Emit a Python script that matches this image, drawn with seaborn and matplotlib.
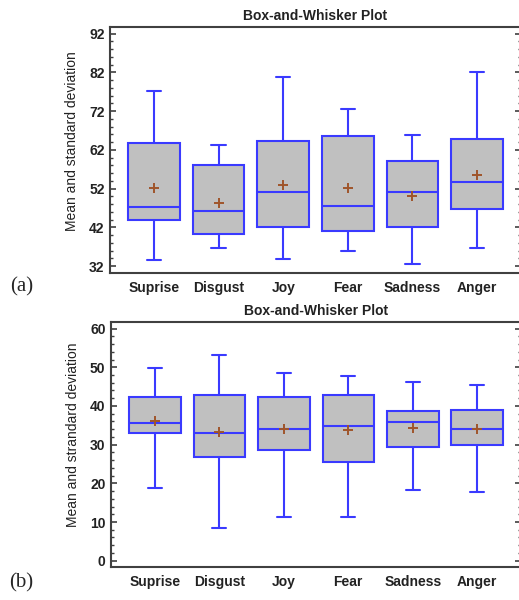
import numpy as np
import pandas as pd
import matplotlib
matplotlib.use("Agg")
import matplotlib.pyplot as plt
from matplotlib.ticker import MultipleLocator
import seaborn as sns

# Emotion categories
emotions = ['Suprise', 'Disgust', 'Joy', 'Fear', 'Sadness', 'Anger']

# Panel (a): whisker low, Q1, median, Q3, whisker high, mean
a_low = [33.5, 36.6, 33.8, 36.0, 32.4, 36.6]
a_q1 = [43.9, 40.3, 42.0, 41.0, 42.0, 46.7]
a_med = [47.2, 46.1, 51.1, 47.5, 51.1, 53.7]
a_q3 = [63.7, 58.0, 64.4, 65.5, 59.0, 64.8]
a_high = [77.2, 63.3, 80.7, 72.5, 65.9, 82.2]
a_mean = [52.1, 48.2, 52.8, 52.1, 50.0, 55.4]

# Panel (b)
b_low = [18.9, 8.5, 11.3, 11.3, 18.2, 17.8]
b_q1 = [32.9, 26.8, 28.6, 25.4, 29.3, 29.8]
b_med = [35.5, 33.0, 34.0, 34.7, 35.9, 34.0]
b_q3 = [42.3, 42.8, 42.3, 42.8, 38.7, 39.0]
b_high = [49.9, 53.1, 48.4, 47.8, 46.3, 45.3]
b_mean = [36.2, 33.3, 34.0, 33.7, 34.4, 34.0]

sns.set_style("ticks")
plt.rcParams['font.family'] = ['Liberation Sans', 'DejaVu Sans']

box_blue = '#3a3aff'
box_fill = '#c0c0c0'
mean_col = '#a0552a'
spine_col = '#404040'
text_col = '#222222'


def five_num_frame(low, q1, med, q3, high):
    # five values per group -> quartiles of the frame equal the given box
    rows = []
    for i, cat in enumerate(emotions):
        for v in (low[i], q1[i], med[i], q3[i], high[i]):
            rows.append({'emotion': cat, 'value': v})
    return pd.DataFrame(rows)


def draw_panel(ax, df, means, ylim, major, ylabel):
    sns.boxplot(data=df, x='emotion', y='value', order=emotions, ax=ax,
                whis=(0, 100), width=0.8, color=box_fill, saturation=1,
                linecolor=box_blue, linewidth=1.5, capwidths=0.22)
    sns.stripplot(x=emotions, y=means, order=emotions, ax=ax, jitter=False,
                  marker='+', color=mean_col, size=7, linewidth=1.4,
                  zorder=5)
    ax.set_xlim(-0.68, 5.68)
    ax.set_ylim(*ylim)
    ax.set_yticks(major)
    ax.yaxis.set_minor_locator(MultipleLocator(2))
    ax.set_title('Box-and-Whisker Plot', fontsize=10, fontweight='bold',
                 color=text_col, pad=5)
    ax.set_xlabel('')
    ax.set_ylabel(ylabel, fontsize=10, color=text_col)
    ax.yaxis.set_label_coords(-0.075, 0.537)
    ax.tick_params(axis='y', which='both', direction='in', left=True,
                   right=True, colors=spine_col, labelcolor=text_col,
                   labelsize=10, pad=4)
    ax.tick_params(axis='y', which='major', length=4.5, width=1.2)
    ax.tick_params(axis='y', which='minor', length=2.3, width=1.0)
    ax.tick_params(axis='x', length=0, labelsize=10, pad=6,
                   labelcolor=text_col)
    for lab in ax.get_xticklabels() + ax.get_yticklabels():
        lab.set_fontweight('bold')
    for side in ['left', 'bottom', 'top', 'right']:
        ax.spines[side].set_visible(True)
        ax.spines[side].set_color(spine_col)
        ax.spines[side].set_linewidth(1.5)


fig = plt.figure(figsize=(5.19, 6.0), dpi=100)
ax1 = fig.add_axes([0.212, 0.545, 0.792, 0.41])
ax2 = fig.add_axes([0.214, 0.0555, 0.79, 0.4085])

draw_panel(ax1, five_num_frame(a_low, a_q1, a_med, a_q3, a_high), a_mean,
           (30.2, 93.7), [32, 42, 52, 62, 72, 82, 92],
           'Mean and standard deviation')
draw_panel(ax2, five_num_frame(b_low, b_q1, b_med, b_q3, b_high), b_mean,
           (-1.55, 61.8), [0, 10, 20, 30, 40, 50, 60],
           'Mean and strandard deviation')

fig.text(0.041, 1 - 287 / 600, '(a)', family='Liberation Serif', fontsize=15,
         ha='center', va='center')
fig.text(0.041, 1 - 583 / 600, '(b)', family='Liberation Serif', fontsize=15,
         ha='center', va='center')

fig.savefig('out.png', dpi=100)
